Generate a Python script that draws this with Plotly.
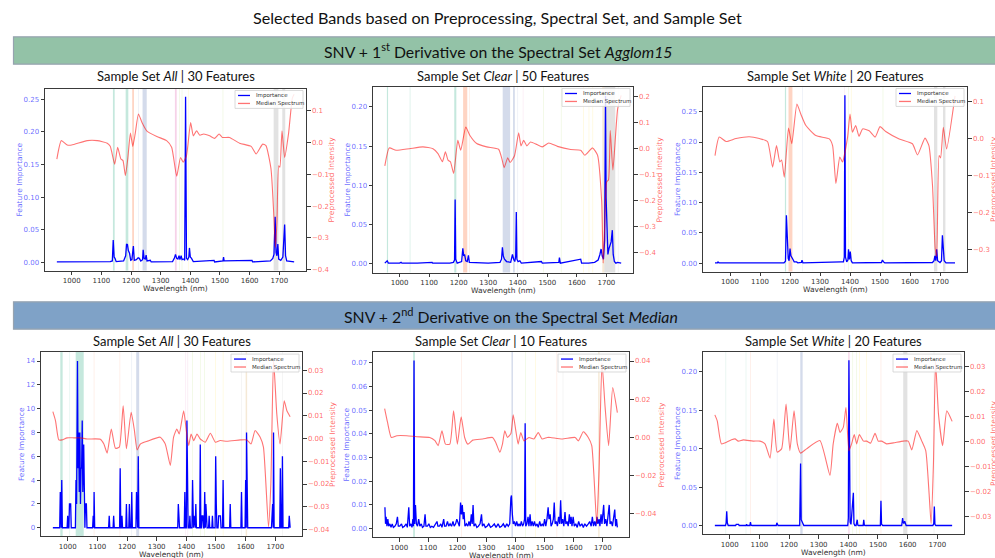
import plotly.graph_objects as go

W, H = 995, 558

# ------------------------------------------------------------------ data
TICK_WL = [1000, 1100, 1200, 1300, 1400, 1500, 1600, 1700]

# Panel 1 : SNV + 1st derivative / Agglom15 / All
P1_SPEC_WL = [950, 965, 985, 1000, 1052, 1086, 1120, 1130, 1145, 1155, 1166, 1173, 1181, 1189, 1198, 1206, 1214, 1225,
              1237, 1253, 1287, 1320, 1337, 1354, 1367, 1376, 1387, 1401, 1410, 1421, 1432, 1445, 1465, 1482, 1497,
              1508, 1532, 1566, 1605, 1622, 1644, 1655, 1672, 1681, 1687, 1692, 1698, 1702, 1709, 1718, 1731, 1744, 1750]
P1_SPEC = [-0.052, 0.006, -0.008, -0.008, 0.006, 0.006, -0.002, -0.012, -0.068, -0.015, -0.052, -0.057, -0.104, -0.052,
           0.030, -0.012, 0.027, 0.090, 0.063, 0.037, 0.019, 0.006, -0.015, -0.106, -0.047, -0.062, -0.042, 0.063, 0.021,
           0.037, 0.023, 0.027, 0.021, 0.013, 0.027, 0.016, 0.016, -0.002, -0.012, -0.036, -0.005, -0.010, -0.083,
           -0.220, -0.330, -0.250, -0.073, -0.078, 0.037, -0.047, 0.027, 0.140, 0.152]
P1_IMP_WL = [950, 1000, 1060, 1062, 1100, 1130, 1137, 1140, 1143, 1146, 1150, 1175, 1182, 1185, 1188, 1191, 1195, 1199,
             1203, 1208, 1211, 1218, 1224, 1228, 1233, 1239, 1241, 1244, 1248, 1251, 1254, 1265, 1268, 1340, 1346, 1350,
             1354, 1358, 1362, 1365, 1369, 1372, 1378, 1381, 1384, 1387, 1391, 1395, 1397, 1400, 1404, 1410, 1480, 1482,
             1510, 1512, 1514, 1608, 1610, 1670, 1678, 1682, 1686, 1689, 1692, 1695, 1698, 1705, 1712, 1715, 1718, 1721,
             1725, 1750]
P1_IMP = [0.0005, 0.0005, 0.001, 0.0005, 0.0005, 0.001, 0.002, 0.034, 0.008, 0.006, 0.001, 0.002, 0.010, 0.028, 0.027,
          0.018, 0.014, 0.003, 0.004, 0.025, 0.003, 0.004, 0.007, 0.006, 0.002, 0.004, 0.019, 0.006, 0.005, 0.011, 0.002,
          0.003, 0.0005, 0.001, 0.006, 0.012, 0.006, 0.005, 0.010, 0.004, 0.010, 0.004, 0.005, 0.003, 0.254, 0.006, 0.004,
          0.008, 0.022, 0.008, 0.006, 0.001, 0.003, 0.0005, 0.002, 0.008, 0.002, 0.003, 0.0005, 0.002, 0.006, 0.012,
          0.070, 0.015, 0.010, 0.028, 0.005, 0.003, 0.008, 0.029, 0.058, 0.010, 0.002, 0.0005]
# bands: start, end, colour group (0 teal,1 orange,2 lavender,3 pink,4 lime,5 yellow,6 tan,7 grey)
P1_BANDS = [(1139, 1145, 0), (1182, 1191, 0), (1204, 1210, 1), (1224, 1226, 2), (1239, 1253, 2), (1348, 1354, 3),
            (1363, 1365, 4), (1371, 1373, 4), (1392, 1394, 5), (1509, 1511, 4), (1681, 1697, 7), (1710, 1720, 7)]

# Panel 2 : SNV + 1st derivative / Agglom15 / Clear
P2_SPEC_WL = [950, 965, 988, 1033, 1079, 1113, 1130, 1145, 1155, 1164, 1172, 1183, 1197, 1207, 1224, 1238, 1261, 1295,
              1335, 1346, 1354, 1366, 1374, 1389, 1403, 1411, 1420, 1431, 1443, 1465, 1483, 1505, 1534, 1579, 1613,
              1627, 1653, 1670, 1684, 1689, 1694, 1701, 1707, 1713, 1722, 1738, 1750]
P2_SPEC = [-0.066, 0.003, -0.006, 0.000, 0.007, 0.000, -0.019, -0.050, -0.012, -0.044, -0.050, -0.095, 0.032, -0.006,
           0.083, 0.051, 0.020, 0.007, -0.002, -0.038, -0.073, -0.035, -0.053, -0.027, 0.061, 0.011, 0.032, 0.011, 0.026,
           0.016, 0.007, 0.022, 0.009, -0.003, -0.006, -0.025, 0.003, -0.025, -0.203, -0.440, -0.300, -0.127, -0.120,
           0.070, -0.082, 0.153, 0.205]
P2_IMP_WL = [950, 955, 958, 962, 1000, 1005, 1008, 1060, 1110, 1112, 1170, 1182, 1186, 1188, 1190, 1195, 1210, 1214,
             1217, 1220, 1224, 1229, 1233, 1236, 1300, 1340, 1345, 1348, 1351, 1355, 1362, 1376, 1382, 1386, 1390, 1393,
             1395, 1397, 1401, 1407, 1412, 1480, 1483, 1539, 1541, 1544, 1613, 1616, 1640, 1660, 1672, 1678, 1682, 1686,
             1690, 1694, 1697, 1699, 1702, 1705, 1709, 1713, 1716, 1720, 1723, 1727, 1732, 1738, 1744, 1750]
P2_IMP = [0.001, 0.003, 0.004, 0.001, 0.001, 0.002, 0.001, 0.001, 0.002, 0.001, 0.001, 0.002, 0.005, 0.082, 0.006, 0.001,
          0.003, 0.020, 0.010, 0.012, 0.004, 0.003, 0.011, 0.002, 0.001, 0.002, 0.006, 0.021, 0.010, 0.006, 0.003, 0.002,
          0.012, 0.006, 0.003, 0.010, 0.066, 0.006, 0.003, 0.004, 0.001, 0.003, 0.001, 0.002, 0.008, 0.001, 0.006, 0.001,
          0.001, 0.002, 0.005, 0.012, 0.019, 0.010, 0.006, 0.030, 0.214, 0.084, 0.040, 0.012, 0.020, 0.025, 0.028, 0.043,
          0.012, 0.003, 0.001, 0.002, 0.001, 0.001]
P2_BANDS = [(957, 961, 0), (1034, 1037, 0), (1185, 1192, 0), (1215, 1229, 1), (1235, 1237, 1), (1349, 1374, 2),
            (1384, 1390, 2), (1399, 1401, 2), (1417, 1419, 3), (1486, 1488, 4), (1546, 1548, 4), (1622, 1624, 5),
            (1640, 1642, 5), (1653, 1655, 5), (1686, 1693, 6), (1693, 1730, 7), (1739, 1741, 7)]

# Panel 3 : SNV + 1st derivative / Agglom15 / White
P3_SPEC_WL = [950, 964, 987, 1020, 1064, 1098, 1125, 1142, 1155, 1166, 1172, 1181, 1195, 1206, 1223, 1236, 1253, 1286,
              1331, 1342, 1353, 1366, 1375, 1392, 1400, 1408, 1419, 1430, 1442, 1464, 1484, 1500, 1519, 1564, 1608,
              1625, 1650, 1663, 1675, 1684, 1689, 1697, 1702, 1711, 1722, 1750]
P3_SPEC = [-0.046, 0.004, -0.008, 0.000, 0.005, 0.000, -0.008, -0.077, -0.019, -0.063, -0.058, -0.104, 0.028, -0.014,
           0.093, 0.066, 0.035, 0.008, -0.001, -0.019, -0.121, -0.050, -0.063, 0.004, 0.066, 0.017, 0.035, 0.006, 0.026,
           0.021, 0.004, 0.032, 0.019, -0.001, -0.014, -0.044, 0.001, -0.019, -0.126, -0.296, -0.318, -0.046, -0.052,
           0.030, -0.028, 0.115]
P3_IMP_WL = [950, 958, 960, 963, 1180, 1185, 1188, 1191, 1194, 1197, 1200, 1203, 1206, 1210, 1214, 1222, 1226, 1238, 1240,
             1243, 1370, 1378, 1381, 1383, 1385, 1389, 1393, 1395, 1398, 1401, 1404, 1408, 1505, 1508, 1512, 1516, 1675,
             1680, 1683, 1686, 1689, 1692, 1700, 1705, 1708, 1711, 1714, 1720, 1750]
P3_IMP = [0.0005, 0.0005, 0.002, 0.0005, 0.0005, 0.003, 0.079, 0.020, 0.008, 0.004, 0.024, 0.012, 0.010, 0.006, 0.002,
          0.002, 0.0005, 0.001, 0.005, 0.0005, 0.002, 0.002, 0.010, 0.277, 0.010, 0.002, 0.005, 0.023, 0.006, 0.019,
          0.004, 0.0005, 0.001, 0.005, 0.002, 0.0005, 0.001, 0.004, 0.012, 0.004, 0.023, 0.004, 0.001, 0.004, 0.046,
          0.029, 0.004, 0.0005, 0.0005]
P3_BANDS = [(1183, 1187, 0), (1195, 1208, 1), (1241, 1243, 2), (1381, 1383, 3), (1394, 1396, 4), (1403, 1405, 5),
            (1509, 1511, 4), (1680, 1691, 7), (1710, 1718, 7)]

# Panel 4 : SNV + 2nd derivative / Median / All
P4_SPEC_WL = [950, 959, 970, 981, 998, 1021, 1043, 1066, 1110, 1122, 1133, 1147, 1161, 1174, 1187, 1198, 1214, 1225, 1234,
              1245, 1268, 1312, 1329, 1346, 1357, 1368, 1376, 1391, 1400, 1408, 1416, 1425, 1436, 1447, 1464, 1481, 1498,
              1514, 1537, 1582, 1604, 1618, 1632, 1649, 1660, 1677, 1685, 1694, 1705, 1716, 1730, 1739, 1750]
P4_SPEC = [0.0118, 0.0078, -0.0006, -0.0006, 0.0003, 0.0003, 0.0003, -0.0002, -0.0003, -0.0024, -0.0064, 0.0042, -0.0043,
           -0.0038, 0.0144, -0.0045, 0.0115, 0.0035, -0.0050, -0.0024, -0.0012, 0.0006, -0.0024, -0.0118, 0.0006,
           0.0042, 0.0020, 0.0122, 0.0035, -0.0031, 0.0020, -0.0009, 0.0020, -0.0002, -0.0016, 0.0023, -0.0016,
           -0.0009, -0.0012, -0.0006, -0.0006, -0.0024, 0.0035, 0.0006, -0.0038, -0.0388, -0.0199, 0.0348, 0.0108,
           -0.0024, 0.0166, 0.0122, 0.0096]
P4_IMP_WL = [950, 973, 975, 977, 978, 980, 982, 998, 1000, 1002, 1004, 1006, 1010, 1012, 1026, 1028, 1030, 1033, 1035,
             1037, 1039, 1041, 1043, 1045, 1047, 1049, 1051, 1054, 1056, 1058, 1060, 1063, 1065, 1084, 1086, 1088, 1089,
             1091, 1138, 1140, 1142, 1153, 1155, 1157, 1175, 1177, 1179, 1181, 1183, 1185, 1196, 1198, 1200, 1206, 1208,
             1210, 1214, 1216, 1218, 1230, 1232, 1234, 1236, 1238, 1240, 1371, 1373, 1375, 1377, 1393, 1395, 1397, 1400,
             1402, 1404, 1406, 1410, 1412, 1414, 1419, 1421, 1423, 1424, 1426, 1428, 1430, 1432, 1434, 1445, 1447, 1449,
             1451, 1453, 1456, 1458, 1460, 1462, 1464, 1466, 1468, 1470, 1475, 1477, 1479, 1486, 1488, 1490, 1497, 1499,
             1501, 1503, 1507, 1509, 1515, 1517, 1522, 1524, 1526, 1546, 1548, 1550, 1584, 1586, 1588, 1598, 1600, 1602,
             1603, 1605, 1607, 1687, 1689, 1691, 1693, 1694, 1696, 1715, 1717, 1719, 1722, 1724, 1726, 1745, 1747, 1749,
             1750]
P4_IMP = [0, 0, 3, 0, 0, 4, 0, 0, 1, 0, 0, 2, 2, 0, 0, 4, 2, 14, 5, 8, 3, 8, 2, 5, 5, 9, 3, 7, 2, 0, 2, 2, 0, 0, 1, 0, 3,
          0, 0, 1, 0, 0, 1, 0, 0, 5, 0, 0, 1, 0, 0, 2, 0, 0, 2, 0, 0, 3, 0, 0, 3, 0, 0, 6, 0, 0, 2, 1, 0, 0, 3, 0, 0, 9,
          1, 0, 0, 1, 0, 0, 4, 0, 0, 1, 0, 0, 2, 0, 0, 7, 0, 0, 1, 1, 0, 0, 3, 0, 2, 1, 0, 0, 1, 0, 0, 1, 0, 0, 6, 2, 0,
          0, 1, 1, 0, 0, 4, 0, 0, 2, 0, 0, 3, 0, 0, 4, 0, 8, 1, 0, 0, 2, 2, 0, 8, 0, 0, 5, 0, 0, 6, 0, 0, 1, 0, 0]
P4_BANDS = [(975, 983, 0), (1006, 1008, 0), (1027, 1054, 0), (1088, 1090, 1), (1175, 1177, 1), (1215, 1217, 2),
            (1231, 1241, 2), (1397, 1399, 3), (1404, 1406, 3), (1420, 1422, 4), (1446, 1448, 4), (1461, 1463, 4),
            (1498, 1500, 5), (1523, 1525, 5), (1585, 1587, 7), (1600, 1605, 6), (1723, 1725, 7)]

# Panel 5 : SNV + 2nd derivative / Median / Clear
P5_SPEC_WL = [950, 960, 973, 992, 1026, 1060, 1105, 1123, 1134, 1147, 1159, 1174, 1187, 1200, 1213, 1225, 1236, 1253,
              1287, 1321, 1332, 1346, 1355, 1363, 1372, 1384, 1392, 1401, 1409, 1418, 1429, 1446, 1463, 1478, 1491, 1509,
              1520, 1560, 1605, 1616, 1633, 1650, 1662, 1679, 1687, 1697, 1708, 1720, 1734, 1750]
P5_SPEC = [0.0150, 0.0077, -0.0002, 0.0007, 0.0007, 0.0002, -0.0002, -0.0019, -0.0045, 0.0033, -0.0037, -0.0037, 0.0138,
           -0.0037, 0.0107, -0.0002, -0.0037, -0.0016, -0.0010, -0.0002, -0.0028, -0.0080, -0.0037, 0.0033, -0.0002,
           0.0019, 0.0117, 0.0033, -0.0037, 0.0024, -0.0020, -0.0002, -0.0010, 0.0024, -0.0010, -0.0002, -0.0002,
           -0.0010, -0.0002, -0.0020, 0.0028, -0.0002, -0.0045, -0.0456, -0.0176, 0.0391, 0.0155, -0.0045, 0.0260,
           0.0129]
P5_IMP_WL = [951, 953, 955, 958, 961, 964, 968, 972, 976, 980, 985, 990, 994, 997, 1002, 1008, 1012, 1018, 1024, 1028,
             1033, 1036, 1040, 1044, 1047, 1049, 1051, 1053, 1056, 1059, 1063, 1067, 1071, 1076, 1080, 1085, 1089, 1092,
             1097, 1102, 1107, 1112, 1118, 1124, 1130, 1133, 1138, 1143, 1147, 1153, 1156, 1161, 1166, 1170, 1175, 1180,
             1185, 1189, 1194, 1198, 1203, 1207, 1211, 1214, 1217, 1220, 1223, 1226, 1231, 1236, 1240, 1244, 1248, 1251,
             1254, 1257, 1262, 1267, 1272, 1278, 1283, 1286, 1291, 1296, 1302, 1308, 1314, 1320, 1327, 1333, 1340, 1346,
             1352, 1358, 1364, 1370, 1375, 1380, 1384, 1386, 1389, 1392, 1396, 1400, 1404, 1408, 1412, 1416, 1420, 1424,
             1428, 1431, 1433, 1435, 1439, 1443, 1446, 1450, 1453, 1457, 1461, 1465, 1469, 1474, 1478, 1483, 1487, 1492,
             1496, 1500, 1504, 1508, 1512, 1515, 1519, 1522, 1526, 1530, 1533, 1536, 1540, 1544, 1548, 1552, 1555, 1558,
             1562, 1566, 1570, 1573, 1577, 1581, 1585, 1588, 1591, 1594, 1598, 1602, 1607, 1612, 1617, 1622, 1628, 1633,
             1638, 1644, 1650, 1655, 1660, 1664, 1668, 1672, 1676, 1680, 1683, 1687, 1690, 1694, 1697, 1700, 1703, 1706,
             1710, 1714, 1718, 1722, 1725, 1729, 1733, 1737, 1741, 1744, 1747, 1750]
P5_IMP = [0.009, 0.002, 0.005, 0.001, 0.004, 0.001, 0.002, 0.0005, 0.002, 0.0005, 0.001, 0.002, 0.005, 0.001, 0.001,
          0.002, 0.0005, 0.001, 0.002, 0.0005, 0.009, 0.001, 0.002, 0.0005, 0.004, 0.001, 0.071, 0.002, 0.010, 0.002,
          0.001, 0.004, 0.001, 0.002, 0.0005, 0.001, 0.006, 0.001, 0.001, 0.002, 0.0005, 0.001, 0.0005, 0.002, 0.003,
          0.001, 0.001, 0.002, 0.0005, 0.004, 0.001, 0.001, 0.003, 0.001, 0.002, 0.001, 0.003, 0.001, 0.002, 0.004,
          0.002, 0.001, 0.011, 0.006, 0.010, 0.004, 0.007, 0.001, 0.002, 0.001, 0.003, 0.001, 0.006, 0.002, 0.010,
          0.001, 0.002, 0.0005, 0.001, 0.002, 0.006, 0.001, 0.002, 0.0005, 0.001, 0.002, 0.0005, 0.001, 0.002, 0.0005,
          0.002, 0.0005, 0.001, 0.002, 0.0005, 0.002, 0.001, 0.002, 0.013, 0.014, 0.006, 0.002, 0.003, 0.001, 0.003,
          0.001, 0.002, 0.001, 0.003, 0.001, 0.002, 0.004, 0.0445, 0.001, 0.002, 0.005, 0.001, 0.006, 0.001, 0.003,
          0.001, 0.003, 0.001, 0.002, 0.0005, 0.003, 0.001, 0.002, 0.001, 0.004, 0.001, 0.004, 0.009, 0.004, 0.006,
          0.001, 0.002, 0.004, 0.011, 0.002, 0.003, 0.001, 0.005, 0.002, 0.012, 0.002, 0.004, 0.001, 0.007, 0.002,
          0.003, 0.001, 0.006, 0.002, 0.005, 0.001, 0.005, 0.001, 0.002, 0.0005, 0.003, 0.001, 0.002, 0.0005, 0.002,
          0.001, 0.002, 0.003, 0.001, 0.005, 0.001, 0.003, 0.001, 0.005, 0.002, 0.004, 0.001, 0.006, 0.002, 0.008,
          0.010, 0.002, 0.004, 0.001, 0.005, 0.010, 0.002, 0.003, 0.001, 0.004, 0.008, 0.001, 0.004, 0.0005]
P5_BANDS = [(1048, 1054, 0), (1213, 1215, 1), (1386, 1391, 2), (1433, 1435, 4), (1467, 1469, 5), (1541, 1543, 1),
            (1562, 1564, 7), (1684, 1689, 6)]

# Panel 6 : SNV + 2nd derivative / Median / White
P6_SPEC_WL = [950, 958, 972, 989, 1006, 1018, 1029, 1046, 1079, 1102, 1119, 1136, 1149, 1160, 1175, 1190, 1203, 1217,
              1228, 1239, 1259, 1304, 1338, 1349, 1363, 1372, 1383, 1392, 1402, 1411, 1420, 1428, 1437, 1451, 1462, 1475,
              1490, 1501, 1512, 1529, 1552, 1586, 1602, 1614, 1631, 1647, 1661, 1673, 1679, 1687, 1694, 1704, 1718,
              1732, 1750]
P6_SPEC = [0.0105, 0.0081, -0.0011, -0.0005, 0.0005, 0.0009, 0.0000, 0.0005, 0.0000, 0.0000, -0.0011, -0.0068, 0.0088,
           -0.0044, -0.0031, 0.0148, -0.0038, 0.0121, -0.0011, -0.0048, -0.0031, 0.0002, -0.0137, -0.0011, 0.0071,
           0.0035, 0.0055, 0.0134, -0.0038, -0.0011, 0.0026, -0.0011, 0.0026, 0.0000, 0.0000, -0.0008, 0.0031, 0.0000,
           0.0000, -0.0011, -0.0007, 0.0000, 0.0000, -0.0035, 0.0042, 0.0002, -0.0038, -0.0223, -0.0329, -0.0090,
           0.0320, 0.0108, -0.0018, 0.0121, 0.0079]
P6_IMP_WL = [950, 986, 988, 990, 992, 995, 1020, 1022, 1030, 1032, 1055, 1057, 1059, 1068, 1070, 1072, 1075, 1114, 1116,
             1118, 1157, 1159, 1161, 1163, 1236, 1239, 1241, 1244, 1247, 1250, 1398, 1400, 1402, 1404, 1406, 1409, 1417,
             1419, 1422, 1426, 1428, 1430, 1432, 1434, 1450, 1452, 1454, 1456, 1508, 1510, 1512, 1514, 1516, 1580, 1583,
             1585, 1587, 1590, 1592, 1595, 1685, 1688, 1690, 1692, 1695, 1750]
P6_IMP = [0.0005, 0.0005, 0.004, 0.019, 0.004, 0.0005, 0.0005, 0.002, 0.002, 0.0005, 0.0005, 0.002, 0.0005, 0.0005,
          0.005, 0.001, 0.0005, 0.0005, 0.001, 0.0005, 0.0005, 0.004, 0.002, 0.0005, 0.0005, 0.081, 0.008, 0.006, 0.003,
          0.0005, 0.0005, 0.010, 0.215, 0.030, 0.005, 0.002, 0.043, 0.003, 0.0005, 0.0005, 0.003, 0.008, 0.001, 0.0005,
          0.0005, 0.008, 0.001, 0.0005, 0.0005, 0.0325, 0.002, 0.0005, 0.0005, 0.0005, 0.010, 0.005, 0.003, 0.006,
          0.002, 0.0005, 0.0005, 0.003, 0.025, 0.002, 0.0005, 0.0005]
P6_BANDS = [(986, 988, 0), (1054, 1056, 0), (1069, 1071, 1), (1159, 1161, 2), (1238, 1246, 2), (1400, 1404, 3),
            (1414, 1416, 4), (1427, 1429, 4), (1436, 1438, 5), (1461, 1463, 5), (1509, 1511, 1), (1585, 1599, 7),
            (1688, 1690, 7)]

TITLES = ["Sample Set <i>All</i> | 30 Features", "Sample Set <i>Clear</i> | 50 Features",
          "Sample Set <i>White</i> | 20 Features", "Sample Set <i>All</i> | 30 Features",
          "Sample Set <i>Clear</i> | 10 Features", "Sample Set <i>White</i> | 20 Features"]
LEFT_TICKS = [[0, 0.05, 0.10, 0.15, 0.20, 0.25], [0, 0.05, 0.10, 0.15, 0.20], [0, 0.05, 0.10, 0.15, 0.20, 0.25],
              [0, 2, 4, 6, 8, 10, 12, 14], [0, 0.01, 0.02, 0.03, 0.04, 0.05, 0.06, 0.07], [0, 0.05, 0.10, 0.15, 0.20]]
RIGHT_TICKS = [[-0.4, -0.3, -0.2, -0.1, 0.0, 0.1], [-0.4, -0.3, -0.2, -0.1, 0.0, 0.1, 0.2],
               [-0.3, -0.2, -0.1, 0.0, 0.1], [-0.04, -0.03, -0.02, -0.01, 0.0, 0.01, 0.02, 0.03],
               [-0.04, -0.02, 0.0, 0.02, 0.04], [-0.03, -0.02, -0.01, 0.0, 0.01, 0.02, 0.03]]

# ------------------------------------------------------------------ styling / layout
LEFT_RANGE = [[-0.0127, 0.2667], [-0.011, 0.226], [-0.0139, 0.2916], [-0.7, 14.75], [-0.0036, 0.0746], [-0.0107, 0.2257]]
RIGHT_RANGE = [[-0.403, 0.170], [-0.476, 0.239], [-0.358, 0.140], [-0.0429, 0.038], [-0.0526, 0.0447], [-0.0372, 0.0356]]
LEFT_FMT = [".2f", ".2f", ".2f", "d", ".2f", ".2f"]
RIGHT_FMT = [".1f", ".1f", ".1f", ".2f", ".2f", ".2f"]
# plot boxes in pixels: left, right, top, bottom
BOX = [(45, 306, 89, 272), (373, 633, 87, 274), (703, 967, 87, 273),
       (41, 302, 354, 539), (373, 629, 354, 540), (703, 964, 354, 537)]
TITLE_Y = [76, 76, 76, 343, 343, 343]
LEFT_LABEL_X = [20, 348, 677, 21, 347, 677]
RIGHT_LABEL_X = [332, 660, 993, 332, 662, 993]

BAND_COLORS = ['#66c2a5', '#fc8d62', '#8da0cb', '#e78ac3', '#a6d854', '#ffd92f', '#e5c494', '#b3b3b3']
BLUE = '#0000ff'
RED = 'rgba(255,0,0,0.55)'
TICK_BLUE = 'rgba(0,0,255,0.62)'
TICK_RED = 'rgba(255,0,0,0.62)'
FRAME = '#3a3a3a'
TICKFONT = 'DejaVu Sans'
SLIDEFONT = 'Lato'

SPEC = [(P1_SPEC_WL, P1_SPEC), (P2_SPEC_WL, P2_SPEC), (P3_SPEC_WL, P3_SPEC),
        (P4_SPEC_WL, P4_SPEC), (P5_SPEC_WL, P5_SPEC), (P6_SPEC_WL, P6_SPEC)]
IMP = [(P1_IMP_WL, P1_IMP), (P2_IMP_WL, P2_IMP), (P3_IMP_WL, P3_IMP),
       (P4_IMP_WL, P4_IMP), (P5_IMP_WL, P5_IMP), (P6_IMP_WL, P6_IMP)]
BANDS = [P1_BANDS, P2_BANDS, P3_BANDS, P4_BANDS, P5_BANDS, P6_BANDS]


def px(x):
    return x / W


def py(y):
    return 1 - y / H


fig = go.Figure()
shapes = []
annotations = []
layout = {}

for i in range(6):
    n = i + 1
    xs = 'x' if n == 1 else f'x{n}'
    yl = 'y' if n == 1 else f'y{n}'
    yr = f'y{n + 6}'
    l, r, t, b = BOX[i]

    fig.add_trace(go.Scatter(x=IMP[i][0], y=IMP[i][1], mode='lines', xaxis=xs, yaxis=yl,
                             line=dict(color=BLUE, width=1.3), name='Importance', showlegend=False,
                             hoverinfo='x+y'))
    fig.add_trace(go.Scatter(x=SPEC[i][0], y=SPEC[i][1], mode='lines', xaxis=xs, yaxis=yr,
                             line=dict(color=RED, width=1.1, shape='spline', smoothing=0.5),
                             name='Median Spectrum', showlegend=False, hoverinfo='x+y'))

    layout['xaxis' if n == 1 else f'xaxis{n}'] = dict(
        domain=[px(l), px(r)], anchor=yl, range=[910, 1790], tickvals=TICK_WL,
        showline=True, mirror=True, linecolor=FRAME, linewidth=1, ticks='outside', ticklen=3.5,
        tickcolor=FRAME, tickwidth=0.8, showgrid=False, zeroline=False,
        tickfont=dict(family=TICKFONT, size=7, color='#333333'))
    layout['yaxis' if n == 1 else f'yaxis{n}'] = dict(
        domain=[py(b), py(t)], anchor=xs, range=LEFT_RANGE[i], tickvals=LEFT_TICKS[i], tickformat=LEFT_FMT[i],
        showline=True, linecolor=FRAME, linewidth=1, ticks='outside', ticklen=3.5, tickcolor=FRAME,
        tickwidth=0.8, showgrid=False, zeroline=False,
        tickfont=dict(family=TICKFONT, size=7, color=TICK_BLUE))
    layout[f'yaxis{n + 6}'] = dict(
        overlaying=yl, side='right', anchor=xs, range=RIGHT_RANGE[i], tickvals=RIGHT_TICKS[i],
        tickformat=RIGHT_FMT[i], showline=True, linecolor=FRAME, linewidth=1, ticks='outside', ticklen=3.5,
        tickcolor=FRAME, tickwidth=0.8, showgrid=False, zeroline=False,
        tickfont=dict(family=TICKFONT, size=7, color=TICK_RED))

    for (x0, x1, c) in BANDS[i]:
        faint = (x1 - x0) <= 3
        shapes.append(dict(type='rect', xref=xs, yref=f'{yl} domain', x0=x0, x1=x1, y0=0, y1=1,
                           fillcolor=BAND_COLORS[c], opacity=0.22 if faint else 0.38,
                           line=dict(width=0), layer='below'))

    # subplot title and axis labels
    annotations.append(dict(text=TITLES[i], xref='paper', yref='paper', x=px((l + r) / 2),
                            y=py(TITLE_Y[i]), showarrow=False, xanchor='center', yanchor='middle',
                            font=dict(family=SLIDEFONT, size=13, color='#111111')))
    annotations.append(dict(text='Feature Importance', xref='paper', yref='paper', x=px(LEFT_LABEL_X[i]),
                            y=py((t + b) / 2), showarrow=False, textangle=-90, xanchor='center',
                            yanchor='middle', font=dict(family=TICKFONT, size=7.5, color=TICK_BLUE)))
    annotations.append(dict(text='Preprocessed Intensity', xref='paper', yref='paper', x=px(RIGHT_LABEL_X[i]),
                            y=py((t + b) / 2), showarrow=False, textangle=-90, xanchor='center',
                            yanchor='middle', font=dict(family=TICKFONT, size=7.5, color=TICK_RED)))
    annotations.append(dict(text='Wavelength (nm)', xref='paper', yref='paper', x=px((l + r) / 2),
                            y=py(b + 18), showarrow=False, xanchor='center', yanchor='middle',
                            font=dict(family=TICKFONT, size=7.5, color='#333333')))

    # legend box (drawn like matplotlib's)
    lx1 = r - 3
    lx0 = lx1 - 68
    ly0 = t + 2
    ly1 = t + 20
    shapes.append(dict(type='rect', xref='paper', yref='paper', x0=px(lx0), x1=px(lx1), y0=py(ly1), y1=py(ly0),
                       fillcolor='rgba(255,255,255,0.85)', line=dict(color='#d0d0d0', width=0.8), layer='above'))
    for k, (lab, col) in enumerate([('Importance', BLUE), ('Median Spectrum', RED)]):
        yy = ly0 + 5 + k * 8
        shapes.append(dict(type='line', xref='paper', yref='paper', x0=px(lx0 + 3), x1=px(lx0 + 15),
                           y0=py(yy), y1=py(yy), line=dict(color=col, width=1.3), layer='above'))
        annotations.append(dict(text=lab, xref='paper', yref='paper', x=px(lx0 + 19), y=py(yy),
                                showarrow=False, xanchor='left', yanchor='middle',
                                font=dict(family=TICKFONT, size=5.5, color='#333333')))

# header bands
shapes.append(dict(type='rect', xref='paper', yref='paper', x0=px(13.5), x1=px(996), y0=py(64.5), y1=py(37),
                   fillcolor='#93c2a7', line=dict(color='#97a3b0', width=1.2), layer='below'))
shapes.append(dict(type='rect', xref='paper', yref='paper', x0=px(13.5), x1=px(996), y0=py(331), y1=py(303.5),
                   fillcolor='#7fa2c7', line=dict(color='#97a3b0', width=1.2), layer='below'))

annotations.append(dict(text='Selected Bands based on Preprocessing, Spectral Set, and Sample Set', xref='paper',
                        yref='paper', x=px(497), y=py(18), showarrow=False, xanchor='center', yanchor='middle',
                        font=dict(family=SLIDEFONT, size=16.2, color='#111111')))
annotations.append(dict(text='SNV + 1<sup>st</sup> Derivative on the Spectral Set <i>Agglom15</i>', xref='paper',
                        yref='paper', x=px(498), y=py(51), showarrow=False, xanchor='center', yanchor='middle',
                        font=dict(family=SLIDEFONT, size=15.8, color='#111111')))
annotations.append(dict(text='SNV + 2<sup>nd</sup> Derivative on the Spectral Set <i>Median</i>', xref='paper',
                        yref='paper', x=px(511), y=py(317), showarrow=False, xanchor='center', yanchor='middle',
                        font=dict(family=SLIDEFONT, size=15.8, color='#111111')))

fig.update_layout(width=W, height=H, margin=dict(l=0, r=0, t=0, b=0), paper_bgcolor='white',
                  plot_bgcolor='white', showlegend=False, shapes=shapes, annotations=annotations, **layout)

fig.write_html("out.html", config={'displayModeBar': False})
